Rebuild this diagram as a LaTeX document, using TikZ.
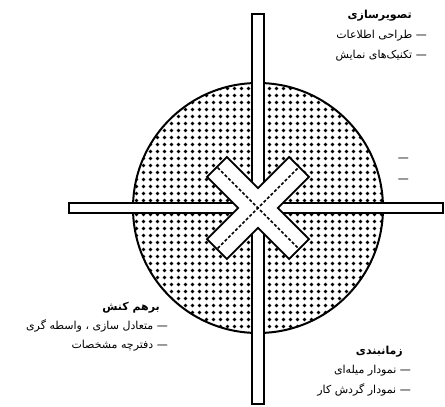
\documentclass[tikz,border=0pt]{standalone}
\usepackage{fontspec}
\usepackage{tikz}
\usetikzlibrary{patterns}
\TeXXeTstate=1
\newfontfamily\farsifont[Script=Arabic]{DejaVu Sans}
\pgfdeclarepatternformonly{discdots}{\pgfpoint{-1pt}{-1pt}}{\pgfpoint{8pt}{8pt}}{\pgfpoint{7pt}{7pt}}{%
  \pgfpathcircle{\pgfpoint{3.5pt}{3.5pt}}{1.9pt}\pgfusepath{fill}}

\begin{document}
\begin{tikzpicture}[
  x=1pt, y=-1pt,
  bar/.style={draw, line width=2.2pt, fill=white},
  arm/.style={draw, line width=4pt},
  armline/.style={line width=1.5pt, dash pattern=on 3pt off 2pt},
  heading/.style={anchor=east, inner sep=0pt, font=\farsifont\bfseries\fontsize{11}{13}\selectfont},
  item/.style={anchor=east, inner sep=0pt, font=\farsifont\fontsize{11}{13}\selectfont}
]
\useasboundingbox (0,0) rectangle (445,407);
% dotted disc
\draw[line width=2pt, pattern=discdots] (258,208) circle[radius=125pt];
% the two long bars
\draw[bar] (252,14) rectangle (264,404);
\draw[bar] (69,203) rectangle (443,213);
% the cross in the middle
\begin{scope}[shift={(258,208)}]
\foreach \a in {45,-45}
  \draw[arm, rotate=\a] (-57,-13) rectangle (57,13);
\foreach \a in {45,-45}
  \fill[white, rotate=\a] (-57,-13) rectangle (57,13);
\foreach \a in {45,-45}
  \draw[armline, rotate=\a] (-57,0) -- (57,0);
\end{scope}
% labels
\node[heading] (viz) at (412,16) {\beginR تصویرسازی\endR};
\node[item] (viz1) at (427,36) {\beginR — طراحی اطلاعات\endR};
\node[item] (viz2) at (427,56) {\beginR — تکنیک‌های نمایش\endR};
\node[item] (mid1) at (409,160) {—};
\node[item] (mid2) at (409,181) {—};
\node[heading] (inter) at (160,308) {\beginR برهم کنش\endR};
\node[item] (inter1) at (168,326) {\beginR — متعادل سازی ، واسطه گری\endR};
\node[item] (inter2) at (168,346) {\beginR — دفترچه مشخصات\endR};
\node[heading] (sched) at (403,352) {\beginR زمانبندی\endR};
\node[item] (sched1) at (411,371) {\beginR — نمودار میله‌ای\endR};
\node[item] (sched2) at (411,390) {\beginR — نمودار گردش کار\endR};
\end{tikzpicture}
\end{document}
